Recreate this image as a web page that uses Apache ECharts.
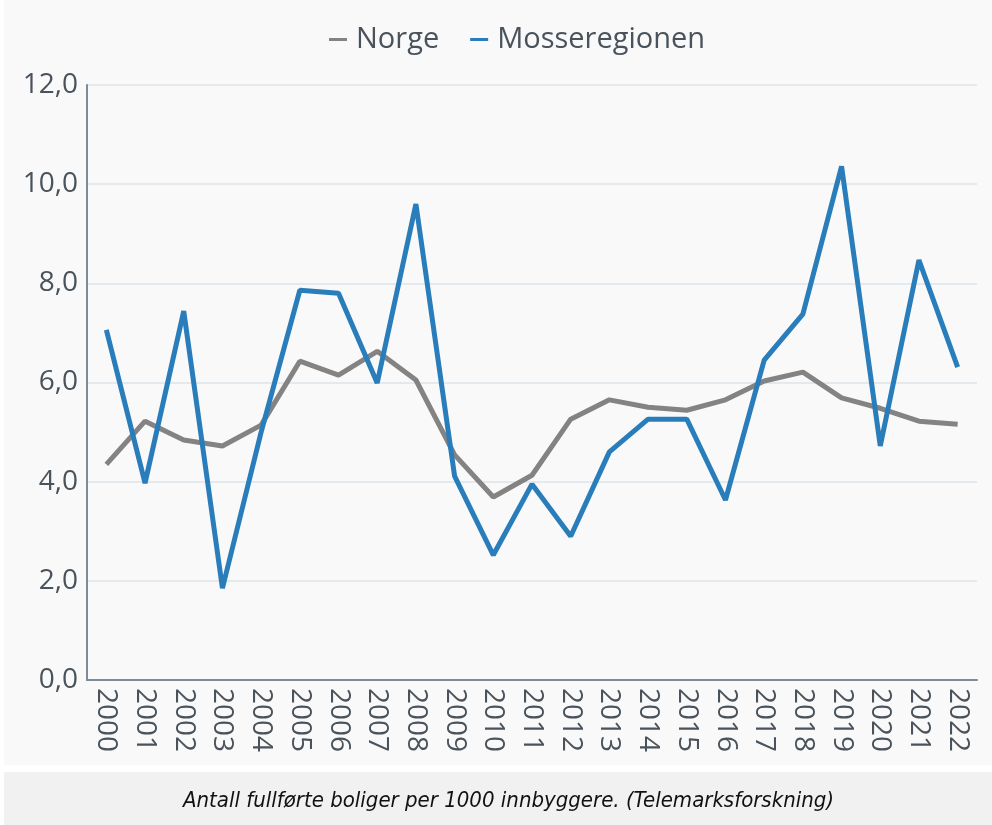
<!DOCTYPE html>
<html>
<head>
<meta charset="utf-8">
<script src="https://cdn.jsdelivr.net/npm/echarts@6/dist/echarts.min.js"></script>
<style>
  html, body { margin: 0; padding: 0; background: #ffffff; }
  #chart { width: 992px; height: 825px; }
</style>
</head>
<body>
<div id="chart"></div>
<script>
const years = ['2000', '2001', '2002', '2003', '2004', '2005', '2006', '2007', '2008', '2009', '2010',
  '2011', '2012', '2013', '2014', '2015', '2016', '2017', '2018', '2019', '2020', '2021', '2022'];
const norge = [4.35, 5.22, 4.84, 4.72, 5.14, 6.43, 6.15, 6.63, 6.05, 4.54, 3.69,
  4.13, 5.26, 5.65, 5.5, 5.44, 5.65, 6.03, 6.21, 5.69, 5.48, 5.22, 5.16];
const mosse = [7.06, 3.97, 7.44, 1.85, 5.0, 7.86, 7.8, 5.99, 9.6, 4.11, 2.52,
  3.95, 2.9, 4.6, 5.26, 5.26, 3.63, 6.45, 7.38, 10.36, 4.72, 8.47, 6.31];
const caption = 'Antall fullførte boliger per 1000 innbyggere. (Telemarksforskning)';

const chart = echarts.init(document.getElementById('chart'));

const option = {
  backgroundColor: '#ffffff',
  animation: false,
  graphic: [
    {
      type: 'rect',
      z: -10,
      shape: { x: 4, y: 0, width: 988, height: 765 },
      style: { fill: '#f9f9f9' }
    },
    {
      type: 'rect',
      z: -10,
      shape: { x: 4, y: 772, width: 988, height: 53 },
      style: { fill: '#f1f1f1' }
    }
  ],
  title: {
    text: caption,
    left: 178,
    top: 785,
    textStyle: {
      fontFamily: 'Liberation Sans Narrow, DejaVu Sans Condensed, sans-serif',
      fontStyle: 'italic',
      fontWeight: 'normal',
      fontSize: 22,
      color: '#111111'
    }
  },
  legend: {
    top: 20,
    left: 324,
    icon: 'rect',
    itemWidth: 18,
    itemHeight: 3,
    itemGap: 31,
    textStyle: {
      fontFamily: 'Open Sans, sans-serif',
      fontSize: 29,
      color: '#4a535c',
      padding: [0, 0, 0, 4]
    },
    data: ['Norge', 'Mosseregionen']
  },
  grid: {
    left: 87,
    right: 15,
    top: 85,
    bottom: 145
  },
  xAxis: {
    type: 'category',
    data: years,
    boundaryGap: true,
    axisLine: { lineStyle: { color: '#7b8c98', width: 2 } },
    axisTick: { show: false },
    axisLabel: {
      rotate: -90,
      interval: 0,
      margin: 8,
      fontFamily: 'Open Sans, sans-serif',
      fontSize: 28,
      color: '#4a535c'
    }
  },
  yAxis: {
    type: 'value',
    min: 0,
    max: 12,
    interval: 2,
    axisLine: { show: true, lineStyle: { color: '#7b8c98', width: 2 } },
    axisTick: { show: false },
    splitLine: { lineStyle: { color: '#dde3e8', width: 1.5 } },
    axisLabel: {
      margin: 9,
      fontFamily: 'Open Sans, sans-serif',
      fontSize: 28,
      color: '#4a535c',
      formatter: v => v.toFixed(1).replace('.', ',')
    }
  },
  series: [
    {
      name: 'Norge',
      type: 'line',
      data: norge,
      symbol: 'none',
      itemStyle: { color: '#838383' },
      lineStyle: { color: '#838383', width: 5 },
      z: 2
    },
    {
      name: 'Mosseregionen',
      type: 'line',
      data: mosse,
      symbol: 'none',
      itemStyle: { color: '#2a7dbb' },
      lineStyle: { color: '#2a7dbb', width: 5 },
      z: 3
    }
  ]
};

chart.setOption(option);
</script>
</body>
</html>
